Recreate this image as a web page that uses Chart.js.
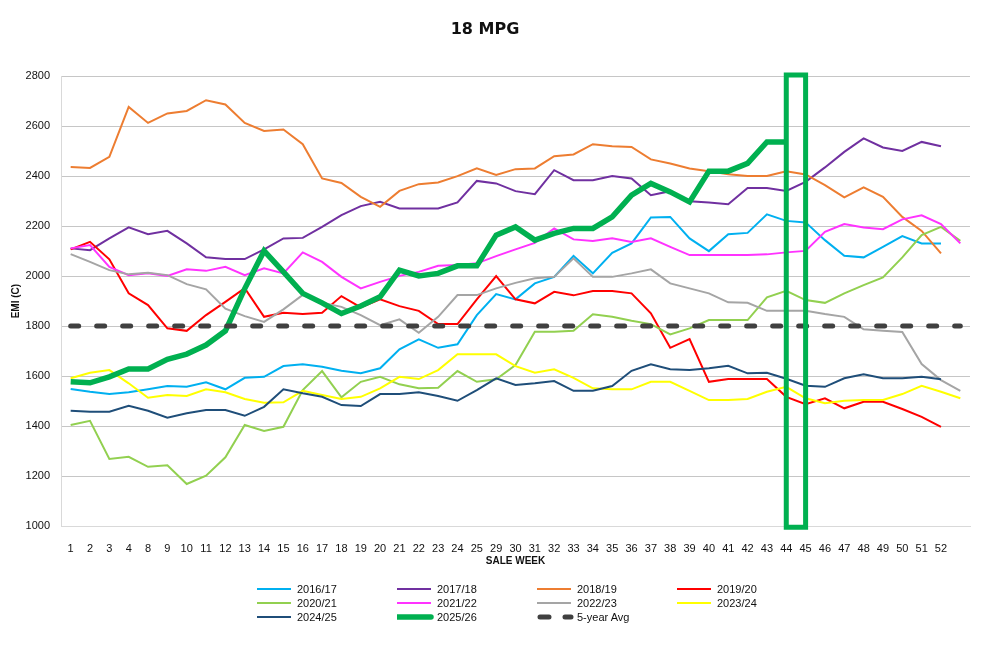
<!DOCTYPE html>
<html>
<head>
<meta charset="utf-8">
<title>18 MPG</title>
<script src="https://cdn.jsdelivr.net/npm/chart.js@4.4.0/dist/chart.umd.min.js"></script>
<style>
body { margin: 0; background: #fff; }
#wrap { position: relative; width: 987px; height: 648px; }
#legenda {
    position: absolute; left: 257px; top: 582px;
    display: grid; grid-template-columns: repeat(4, 140px);
    font: 11px "Liberation Sans", Arial, sans-serif; color: #111;
}
.item { height: 14px; display: flex; align-items: center; white-space: nowrap; }
.item svg { margin-right: 3px; }
</style>
</head>
<body>
<div id="wrap">
    <canvas id="grafico" width="987" height="648"></canvas>
    <div id="legenda"></div>
</div>
<script>
const weeks = ['1','2','3','4','8','9','10','11','12','13','14','15','16','17','18','19','20','21','22','23','24','25',
    '29','30','31','32','33','34','35','36','37','38','39','40','41','42','43','44','45','46','47','48','49','50','51','52',''];

const s2016 = [1548,1537,1528,1535,1547,1560,1557,1575,1547,1593,1597,1640,1647,1637,1621,1611,1631,1707,1747,1713,1727,1844,
    1928,1907,1971,1997,2081,2011,2093,2131,2235,2237,2151,2100,2168,2173,2247,2221,2215,2144,2081,2075,2117,2160,2131,2131,null];
const s2017 = [2111,2104,2151,2195,2168,2181,2131,2075,2068,2068,2107,2151,2153,2197,2244,2280,2297,2271,2271,2271,2295,2381,
    2371,2340,2328,2424,2384,2384,2401,2391,2324,2340,2300,2295,2288,2353,2353,2341,2377,2435,2497,2551,2515,2501,2537,2520,null];
const s2018 = [2437,2433,2477,2677,2613,2651,2661,2704,2687,2613,2581,2587,2528,2391,2373,2317,2277,2341,2368,2375,2400,2431,
    2405,2428,2431,2480,2487,2528,2520,2517,2467,2451,2431,2420,2408,2401,2401,2420,2407,2364,2315,2355,2317,2237,2181,2091,null];
const s2019 = [2107,2137,2067,1931,1884,1791,1781,1844,1897,1952,1837,1853,1848,1853,1920,1875,1907,1880,1861,1808,1808,1907,
    2000,1907,1891,1937,1923,1940,1940,1931,1851,1713,1748,1577,1588,1588,1588,1517,1487,1511,1471,1497,1497,1468,1437,1397,null];
const s2020 = [1404,1421,1268,1277,1237,1243,1168,1201,1275,1404,1380,1397,1544,1620,1515,1577,1597,1567,1551,1553,1620,1577,
    1587,1644,1777,1777,1781,1847,1837,1821,1808,1767,1791,1824,1824,1824,1915,1941,1904,1893,1931,1964,1995,2075,2164,2197,2141];
const s2021 = [2111,2124,2037,2004,2011,2001,2027,2021,2037,2004,2031,2011,2095,2057,1997,1951,1977,2001,2017,2041,2044,2051,
    2080,2107,2133,2191,2147,2141,2151,2137,2151,2117,2084,2084,2084,2084,2087,2095,2101,2177,2208,2195,2188,2227,2243,2208,2131];
const s2022 = [2088,2057,2024,2007,2013,2004,1968,1947,1870,1840,1817,1867,1925,1893,1877,1844,1804,1827,1773,1837,1924,1924,
    1951,1973,1991,1997,2071,1997,1997,2011,2027,1971,1951,1931,1895,1893,1861,1861,1861,1848,1837,1787,1781,1776,1648,1584,1541];
const s2023 = [1591,1613,1624,1571,1513,1524,1520,1547,1535,1508,1493,1495,1541,1524,1508,1517,1551,1597,1588,1624,1687,1687,
    1687,1640,1613,1627,1593,1551,1547,1547,1577,1577,1541,1504,1504,1508,1537,1557,1511,1491,1501,1504,1504,1528,1561,1537,1511];
const s2024 = [1461,1457,1457,1481,1461,1433,1451,1464,1464,1441,1477,1547,1531,1517,1484,1480,1528,1528,1535,1520,1501,1544,
    1591,1564,1571,1580,1541,1541,1560,1621,1647,1627,1624,1631,1641,1611,1613,1589,1561,1557,1591,1607,1591,1591,1597,1587,null];
const s2025 = [1577,1573,1597,1628,1628,1667,1688,1724,1781,1950,2101,2017,1931,1893,1850,1880,1917,2024,2001,2011,2041,2041,
    2164,2197,2144,2171,2191,2191,2237,2324,2371,2337,2297,2420,2420,2451,2537,2537,null,null,null,null,null,null,null,null,null];
const media5 = [1800,1800,1800,1800,1800,1800,1800,1800,1800,1800,1800,1800,1800,1800,1800,1800,1800,1800,1800,1800,1800,1800,
    1800,1800,1800,1800,1800,1800,1800,1800,1800,1800,1800,1800,1800,1800,1800,1800,1800,1800,1800,1800,1800,1800,1800,1800,1800];

// semanas destacadas pelo retangulo verde
const destaqueSemanas = ['44', '45'];
const destaqueFaixa = [995, 2805];

const yTicks = { min: 1000, max: 2800, step: 200 };

const series = [
    { label: '2016/17', data: s2016, cor: '#00B0F0', largura: 2 },
    { label: '2017/18', data: s2017, cor: '#7030A0', largura: 2 },
    { label: '2018/19', data: s2018, cor: '#ED7D31', largura: 2 },
    { label: '2019/20', data: s2019, cor: '#FF0000', largura: 2 },
    { label: '2020/21', data: s2020, cor: '#92D050', largura: 2 },
    { label: '2021/22', data: s2021, cor: '#FF33FF', largura: 2 },
    { label: '2022/23', data: s2022, cor: '#A5A5A5', largura: 2 },
    { label: '2023/24', data: s2023, cor: '#FFFF00', largura: 2 },
    { label: '2024/25', data: s2024, cor: '#1F4E79', largura: 2 },
    { label: '2025/26', data: s2025, cor: '#00B050', largura: 5.5 },
    { label: '5-year Avg', data: media5, cor: '#404040', largura: 5, dash: [8, 18] }
];

const datasets = series.map((s, i) => ({
    label: s.label,
    data: s.data,
    borderColor: s.cor,
    backgroundColor: s.cor,
    borderWidth: s.largura,
    borderDash: s.dash || [],
    borderCapStyle: s.dash ? 'round' : 'butt',
    pointRadius: 0,
    tension: 0,
    fill: false,
    order: 20 - i
}));

const d0 = destaqueSemanas[0], d1 = destaqueSemanas[1];
datasets.push({
    label: 'destaque',
    data: [
        { x: d0, y: destaqueFaixa[0] }, { x: d0, y: destaqueFaixa[1] },
        { x: d1, y: destaqueFaixa[1] }, { x: d1, y: destaqueFaixa[0] },
        { x: d0, y: destaqueFaixa[0] }
    ],
    borderColor: '#00B050',
    borderWidth: 5,
    borderJoinStyle: 'miter',
    borderCapStyle: 'square',
    pointRadius: 0,
    fill: false,
    clip: false,
    order: 0
});

const fonte = '"Liberation Sans", Arial, sans-serif';

new Chart(document.getElementById('grafico'), {
    type: 'line',
    data: { labels: weeks, datasets: datasets },
    options: {
        responsive: false,
        animation: false,
        layout: { padding: { left: 0, right: 17, top: 0, bottom: 78 } },
        plugins: {
            legend: { display: false },
            tooltip: { enabled: false },
            title: {
                display: true,
                text: '18 MPG',
                color: '#111',
                font: { family: '"DejaVu Sans", sans-serif', size: 16, weight: 'bold' },
                padding: { top: 20, bottom: 37 }
            }
        },
        scales: {
            x: {
                offset: true,
                grid: { display: false, offset: true },
                border: { display: true, color: '#d9d9d9', width: 1 },
                ticks: { color: '#111', font: { family: fonte, size: 11 }, padding: 8, maxRotation: 0, autoSkip: false },
                title: { display: true, text: 'SALE WEEK', color: '#111', font: { family: fonte, size: 10, weight: 'bold' }, padding: { top: 0, bottom: 3 } },
                afterFit: s => { s.height = 44; }
            },
            y: {
                min: yTicks.min,
                max: yTicks.max,
                grid: { color: '#c6c6c6', lineWidth: 1, drawTicks: false },
                border: { display: true, color: '#d9d9d9', width: 1 },
                ticks: { stepSize: yTicks.step, color: '#111', font: { family: fonte, size: 11 }, padding: 11, callback: v => String(v) },
                title: { display: true, text: 'EMI (C)', color: '#111', font: { family: fonte, size: 10, weight: 'bold' }, padding: { top: 10, bottom: 0 } },
                afterFit: s => { s.width = 61; }
            }
        }
    }
});

// legenda em grade de 4 colunas
const legenda = document.getElementById('legenda');
series.forEach(s => {
    const item = document.createElement('div');
    item.className = 'item';
    let amostra;
    if (s.dash) {
        amostra = `<svg width="37" height="8"><line x1="3" y1="4" x2="34" y2="4" stroke="${s.cor}" stroke-width="5" stroke-linecap="round" stroke-dasharray="9 16"/></svg>`;
    } else {
        amostra = `<svg width="37" height="8"><line x1="0" y1="4" x2="34" y2="4" stroke="${s.cor}" stroke-width="${s.largura}" stroke-linecap="${s.largura > 3 ? 'round' : 'butt'}"/></svg>`;
    }
    item.innerHTML = amostra + '<span>' + s.label + '</span>';
    legenda.appendChild(item);
});
</script>
</body>
</html>
